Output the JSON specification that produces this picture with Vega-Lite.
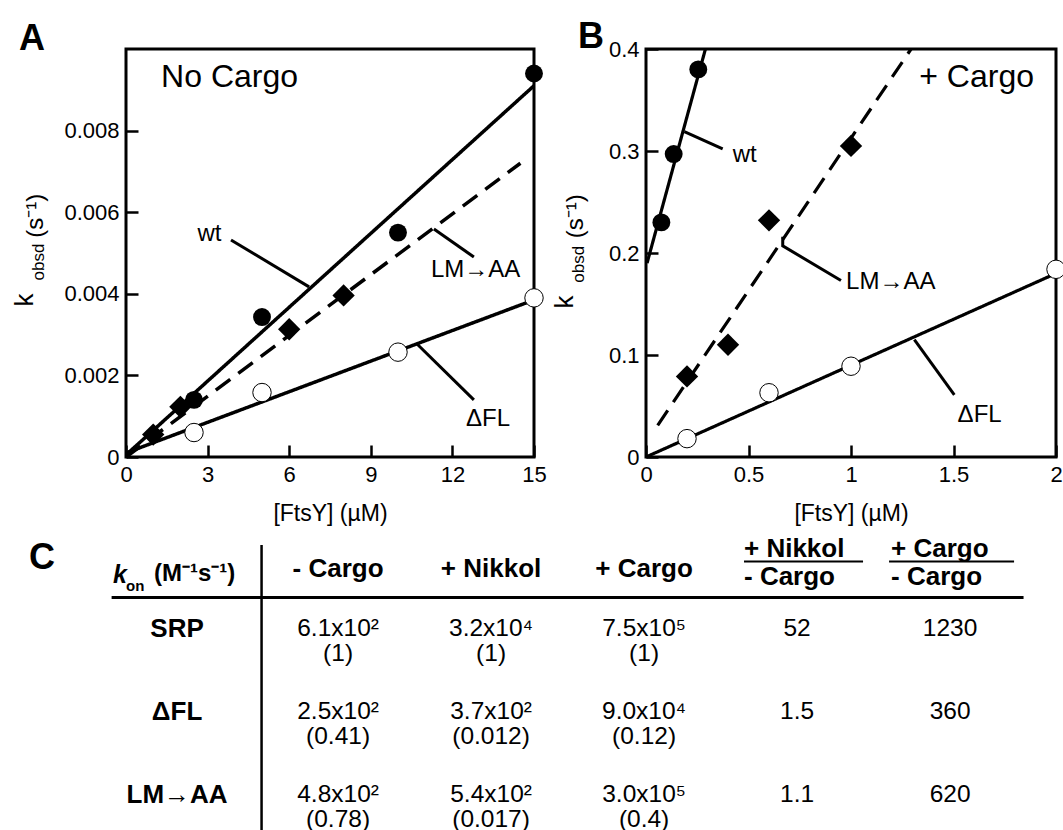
{
  "$schema": "https://vega.github.io/schema/vega-lite/v6.json",
  "padding": {"left": 10, "top": 17, "right": 0, "bottom": 0},
  "background": "white",
  "bounds": "flush",
  "spacing": 493,
  "config": {
    "font": "Liberation Sans",
    "view": {"stroke": "black", "strokeWidth": 3},
    "axis": {"domain": false, "grid": false, "tickSize": -12, "tickWidth": 2.5, "tickColor": "black", "labelFontSize": 22, "labelColor": "black", "labelPadding": 19, "labelFlush": false, "labelOverlap": false, "titleFontSize": 23, "titleFontWeight": "normal", "titleColor": "black", "titlePadding": 17},
    "text": {"color": "black"}
  },
  "datasets": {
    "ptsA": [
      {"series": "wt", "x": 2.5, "y": 0.0014}, {"series": "wt", "x": 5, "y": 0.00343}, {"series": "wt", "x": 10, "y": 0.0055}, {"series": "wt", "x": 15, "y": 0.0094},
      {"series": "LM→AA", "x": 1, "y": 0.00055}, {"series": "LM→AA", "x": 2, "y": 0.00123}, {"series": "LM→AA", "x": 6, "y": 0.00313}, {"series": "LM→AA", "x": 8, "y": 0.00396},
      {"series": "ΔFL", "x": 2.5, "y": 0.0006}, {"series": "ΔFL", "x": 5, "y": 0.00158}, {"series": "ΔFL", "x": 10, "y": 0.00257}, {"series": "ΔFL", "x": 15, "y": 0.0039}
    ],
    "fitA": [
      {"series": "wt", "style": "solid", "x": 0, "y": 0.00005}, {"series": "wt", "style": "solid", "x": 15, "y": 0.0091},
      {"series": "LM→AA", "style": "dashed", "x": 0, "y": 0}, {"series": "LM→AA", "style": "dashed", "x": 14.5, "y": 0.0072},
      {"series": "ΔFL", "style": "solid", "x": 0, "y": 0.0001}, {"series": "ΔFL", "style": "solid", "x": 15, "y": 0.00385}
    ],
    "leadA": [
      {"series": "wt", "i": 0, "x": 3.86, "y": 0.00532}, {"series": "wt", "i": 1, "x": 6.73, "y": 0.00417},
      {"series": "LM→AA", "i": 0, "x": 11.32, "y": 0.00559}, {"series": "LM→AA", "i": 1, "x": 12.79, "y": 0.0049},
      {"series": "ΔFL", "i": 0, "x": 10.7, "y": 0.00277}, {"series": "ΔFL", "i": 1, "x": 12.79, "y": 0.0014}
    ],
    "labA": [
      {"text": "wt", "x": 2.63, "y": 0.00547, "kind": "ann"},
      {"text": "LM→AA", "x": 11.21, "y": 0.00458, "kind": "ann"},
      {"text": "ΔFL", "x": 12.5, "y": 0.00094, "kind": "ann"},
      {"text": "No Cargo", "x": 1.29, "y": 0.00931, "kind": "cond"},
      {"text": "A", "x": -3.93, "y": 0.00998, "kind": "panel"},
      {"text": "k", "x": -3.42, "y": 0.00385, "kind": "k"},
      {"text": "obsd", "x": -3.01, "y": 0.00478, "kind": "sub"},
      {"text": "(s⁻¹)", "x": -3.05, "y": 0.00591, "kind": "unit"}
    ],
    "ptsB": [
      {"series": "wt", "x": 0.075, "y": 0.23}, {"series": "wt", "x": 0.135, "y": 0.297}, {"series": "wt", "x": 0.255, "y": 0.38},
      {"series": "LM→AA", "x": 0.2, "y": 0.079}, {"series": "LM→AA", "x": 0.4, "y": 0.11}, {"series": "LM→AA", "x": 0.6, "y": 0.232}, {"series": "LM→AA", "x": 1, "y": 0.305},
      {"series": "ΔFL", "x": 0.2, "y": 0.018}, {"series": "ΔFL", "x": 0.6, "y": 0.063}, {"series": "ΔFL", "x": 1, "y": 0.089}, {"series": "ΔFL", "x": 2, "y": 0.184}
    ],
    "fitB": [
      {"series": "wt", "style": "solid", "x": 0.005, "y": 0.19}, {"series": "wt", "style": "solid", "x": 0.29, "y": 0.4},
      {"series": "LM→AA", "style": "dashed", "x": 0.057, "y": 0.031}, {"series": "LM→AA", "style": "dashed", "x": 1.293, "y": 0.4},
      {"series": "ΔFL", "style": "solid", "x": 0, "y": 0}, {"series": "ΔFL", "style": "solid", "x": 2, "y": 0.18}
    ],
    "leadB": [
      {"series": "wt", "i": 0, "x": 0.187, "y": 0.319}, {"series": "wt", "i": 1, "x": 0.374, "y": 0.302},
      {"series": "LM→AA", "i": 0, "x": 0.667, "y": 0.216}, {"series": "LM→AA", "i": 1, "x": 0.667, "y": 0.207}, {"series": "LM→AA", "i": 2, "x": 0.951, "y": 0.173},
      {"series": "ΔFL", "i": 0, "x": 1.309, "y": 0.115}, {"series": "ΔFL", "i": 1, "x": 1.504, "y": 0.061}
    ],
    "labB": [
      {"text": "wt", "x": 0.423, "y": 0.2965, "kind": "ann"},
      {"text": "LM→AA", "x": 0.976, "y": 0.172, "kind": "ann"},
      {"text": "ΔFL", "x": 1.52, "y": 0.041, "kind": "ann"},
      {"text": "+ Cargo", "x": 1.333, "y": 0.373, "kind": "cond"},
      {"text": "B", "x": -0.332, "y": 0.401, "kind": "panel"},
      {"text": "k", "x": -0.356, "y": 0.152, "kind": "k"},
      {"text": "obsd", "x": -0.302, "y": 0.189, "kind": "sub"},
      {"text": "(s⁻¹)", "x": -0.307, "y": 0.236, "kind": "unit"}
    ],
    "tab": [
      {"c": 1, "r": 0.28, "text": "- Cargo", "kind": "head"},
      {"c": 2, "r": 0.28, "text": "+ Nikkol", "kind": "head"},
      {"c": 3, "r": 0.28, "text": "+ Cargo", "kind": "head"},
      {"c": 3.653, "r": 0.034, "text": "+ Nikkol", "kind": "headL"},
      {"c": 3.653, "r": 0.372, "text": "- Cargo", "kind": "headL"},
      {"c": 4.614, "r": 0.034, "text": "+ Cargo", "kind": "headL"},
      {"c": 4.614, "r": 0.372, "text": "- Cargo", "kind": "headL"},
      {"c": 0, "r": 1, "text": "SRP", "kind": "rowlab"},
      {"c": 0, "r": 2, "text": "ΔFL", "kind": "rowlab"},
      {"c": 0, "r": 3, "text": "LM→AA", "kind": "rowlab"},
      {"c": 1, "r": 1, "text": "6.1x10²", "kind": "val"}, {"c": 1, "r": 1, "text": "(1)", "kind": "sub"},
      {"c": 2, "r": 1, "text": "3.2x10⁴", "kind": "val"}, {"c": 2, "r": 1, "text": "(1)", "kind": "sub"},
      {"c": 3, "r": 1, "text": "7.5x10⁵", "kind": "val"}, {"c": 3, "r": 1, "text": "(1)", "kind": "sub"},
      {"c": 4, "r": 1, "text": "52", "kind": "val"},
      {"c": 5, "r": 1, "text": "1230", "kind": "val"},
      {"c": 1, "r": 2, "text": "2.5x10²", "kind": "val"}, {"c": 1, "r": 2, "text": "(0.41)", "kind": "sub"},
      {"c": 2, "r": 2, "text": "3.7x10²", "kind": "val"}, {"c": 2, "r": 2, "text": "(0.012)", "kind": "sub"},
      {"c": 3, "r": 2, "text": "9.0x10⁴", "kind": "val"}, {"c": 3, "r": 2, "text": "(0.12)", "kind": "sub"},
      {"c": 4, "r": 2, "text": "1.5", "kind": "val"},
      {"c": 5, "r": 2, "text": "360", "kind": "val"},
      {"c": 1, "r": 3, "text": "4.8x10²", "kind": "val"}, {"c": 1, "r": 3, "text": "(0.78)", "kind": "sub"},
      {"c": 2, "r": 3, "text": "5.4x10²", "kind": "val"}, {"c": 2, "r": 3, "text": "(0.017)", "kind": "sub"},
      {"c": 3, "r": 3, "text": "3.0x10⁵", "kind": "val"}, {"c": 3, "r": 3, "text": "(0.4)", "kind": "sub"},
      {"c": 4, "r": 3, "text": "1.1", "kind": "val"},
      {"c": 5, "r": 3, "text": "620", "kind": "val"},
      {"c": -1.02, "r": 0.143, "text": "C", "kind": "letter"},
      {"c": -0.471, "r": 0.348, "text": "k", "kind": "k"},
      {"c": -0.386, "r": 0.481, "text": "on", "kind": "on"},
      {"c": -0.203, "r": 0.336, "text": "(M⁻¹s⁻¹)", "kind": "unit"}
    ],
    "tlines": [
      {"c": -0.48, "c2": 5.48, "r": 0.62, "kind": "h"},
      {"c": 3.653, "c2": 4.431, "r": 0.185, "kind": "u"},
      {"c": 4.601, "c2": 5.418, "r": 0.185, "kind": "u"},
      {"c": 0.5, "r": -0.014, "r2": 3.45, "kind": "v"}
    ]
  },
  "vconcat": [
    {
      "bounds": "flush",
      "spacing": 112,
      "hconcat": [
        {
          "width": 408, "height": 408,
          "encoding": {
            "x": {"field": "x", "type": "quantitative", "scale": {"domain": [0, 15], "nice": false, "zero": false}, "axis": {"values": [0, 3, 6, 9, 12, 15], "title": "[FtsY] (µM)"}},
            "y": {"field": "y", "type": "quantitative", "scale": {"domain": [0, 0.01], "nice": false, "zero": false}, "axis": {"values": [0, 0.002, 0.004, 0.006, 0.008], "labelExpr": "datum.value == 0 ? '0' : format(datum.value, '.3f')", "title": null}}
          },
          "layer": [
            {"data": {"name": "fitA"}, "mark": {"type": "line", "color": "black", "strokeWidth": 3.5}, "encoding": {"detail": {"field": "series"}, "strokeDash": {"field": "style", "type": "nominal", "scale": {"domain": ["solid", "dashed"], "range": [[1, 0], [18, 10]]}, "legend": null}}},
            {"data": {"name": "leadA"}, "mark": {"type": "line", "color": "black", "strokeWidth": 3}, "encoding": {"detail": {"field": "series"}, "order": {"field": "i", "type": "quantitative"}}},
            {"data": {"name": "ptsA"}, "transform": [{"filter": "datum.series === 'wt'"}], "mark": {"type": "point", "shape": "circle", "filled": true, "color": "black", "size": 320, "opacity": 1}},
            {"data": {"name": "ptsA"}, "transform": [{"filter": "datum.series === 'LM→AA'"}], "mark": {"type": "point", "shape": "diamond", "filled": true, "color": "black", "size": 500, "opacity": 1}},
            {"data": {"name": "ptsA"}, "transform": [{"filter": "datum.series === 'ΔFL'"}], "mark": {"type": "point", "shape": "circle", "filled": true, "fill": "white", "stroke": "black", "strokeWidth": 1, "size": 340, "opacity": 1}},
            {"data": {"name": "labA"}, "transform": [{"filter": "datum.kind === 'ann'"}], "mark": {"type": "text", "align": "left", "baseline": "middle", "fontSize": 24}, "encoding": {"text": {"field": "text"}}},
            {"data": {"name": "labA"}, "transform": [{"filter": "datum.kind === 'cond'"}], "mark": {"type": "text", "align": "left", "baseline": "middle", "fontSize": 32}, "encoding": {"text": {"field": "text"}}},
            {"data": {"name": "labA"}, "transform": [{"filter": "datum.kind === 'panel'"}], "mark": {"type": "text", "align": "left", "baseline": "alphabetic", "fontSize": 36, "fontWeight": "bold"}, "encoding": {"text": {"field": "text"}}},
            {"data": {"name": "labA"}, "transform": [{"filter": "datum.kind === 'k'"}], "mark": {"type": "text", "align": "center", "baseline": "alphabetic", "angle": 270, "fontSize": 26}, "encoding": {"text": {"field": "text"}}},
            {"data": {"name": "labA"}, "transform": [{"filter": "datum.kind === 'sub'"}], "mark": {"type": "text", "align": "center", "baseline": "alphabetic", "angle": 270, "fontSize": 17}, "encoding": {"text": {"field": "text"}}},
            {"data": {"name": "labA"}, "transform": [{"filter": "datum.kind === 'unit'"}], "mark": {"type": "text", "align": "center", "baseline": "alphabetic", "angle": 270, "fontSize": 24}, "encoding": {"text": {"field": "text"}}}
          ]
        },
        {
          "width": 410, "height": 408,
          "encoding": {
            "x": {"field": "x", "type": "quantitative", "scale": {"domain": [0, 2], "nice": false, "zero": false}, "axis": {"values": [0, 0.5, 1, 1.5, 2], "format": ".1~f", "title": "[FtsY] (µM)"}},
            "y": {"field": "y", "type": "quantitative", "scale": {"domain": [0, 0.4], "nice": false, "zero": false}, "axis": {"values": [0, 0.1, 0.2, 0.3, 0.4], "format": ".1~f", "title": null}}
          },
          "layer": [
            {"data": {"name": "fitB"}, "mark": {"type": "line", "color": "black", "strokeWidth": 3.2}, "encoding": {"detail": {"field": "series"}, "strokeDash": {"field": "style", "type": "nominal", "scale": {"domain": ["solid", "dashed"], "range": [[1, 0], [20, 11]]}, "legend": null}}},
            {"data": {"name": "leadB"}, "mark": {"type": "line", "color": "black", "strokeWidth": 3}, "encoding": {"detail": {"field": "series"}, "order": {"field": "i", "type": "quantitative"}}},
            {"data": {"name": "ptsB"}, "transform": [{"filter": "datum.series === 'wt'"}], "mark": {"type": "point", "shape": "circle", "filled": true, "color": "black", "size": 320, "opacity": 1}},
            {"data": {"name": "ptsB"}, "transform": [{"filter": "datum.series === 'LM→AA'"}], "mark": {"type": "point", "shape": "diamond", "filled": true, "color": "black", "size": 500, "opacity": 1}},
            {"data": {"name": "ptsB"}, "transform": [{"filter": "datum.series === 'ΔFL'"}], "mark": {"type": "point", "shape": "circle", "filled": true, "fill": "white", "stroke": "black", "strokeWidth": 1, "size": 340, "opacity": 1}},
            {"data": {"name": "labB"}, "transform": [{"filter": "datum.kind === 'ann'"}], "mark": {"type": "text", "align": "left", "baseline": "middle", "fontSize": 24}, "encoding": {"text": {"field": "text"}}},
            {"data": {"name": "labB"}, "transform": [{"filter": "datum.kind === 'cond'"}], "mark": {"type": "text", "align": "left", "baseline": "middle", "fontSize": 32}, "encoding": {"text": {"field": "text"}}},
            {"data": {"name": "labB"}, "transform": [{"filter": "datum.kind === 'panel'"}], "mark": {"type": "text", "align": "left", "baseline": "alphabetic", "fontSize": 36, "fontWeight": "bold"}, "encoding": {"text": {"field": "text"}}},
            {"data": {"name": "labB"}, "transform": [{"filter": "datum.kind === 'k'"}], "mark": {"type": "text", "align": "center", "baseline": "alphabetic", "angle": 270, "fontSize": 26}, "encoding": {"text": {"field": "text"}}},
            {"data": {"name": "labB"}, "transform": [{"filter": "datum.kind === 'sub'"}], "mark": {"type": "text", "align": "center", "baseline": "alphabetic", "angle": 270, "fontSize": 17}, "encoding": {"text": {"field": "text"}}},
            {"data": {"name": "labB"}, "transform": [{"filter": "datum.kind === 'unit'"}], "mark": {"type": "text", "align": "center", "baseline": "alphabetic", "angle": 270, "fontSize": 24}, "encoding": {"text": {"field": "text"}}}
          ]
        }
      ]
    },
    {
      "width": 900, "height": 290,
      "view": {"stroke": null},
      "encoding": {
        "x": {"field": "c", "type": "quantitative", "scale": {"domain": [-0.386, 5.496], "nice": false, "zero": false}, "axis": null},
        "y": {"field": "r", "type": "quantitative", "scale": {"domain": [-0.05, 3.45], "nice": false, "zero": false, "reverse": true}, "axis": null}
      },
      "layer": [
        {"data": {"name": "tlines"}, "transform": [{"filter": "datum.kind === 'h'"}], "mark": {"type": "rule", "color": "black", "strokeWidth": 3}, "encoding": {"x2": {"field": "c2"}}},
        {"data": {"name": "tlines"}, "transform": [{"filter": "datum.kind === 'u'"}], "mark": {"type": "rule", "color": "black", "strokeWidth": 2}, "encoding": {"x2": {"field": "c2"}}},
        {"data": {"name": "tlines"}, "transform": [{"filter": "datum.kind === 'v'"}], "mark": {"type": "rule", "color": "black", "strokeWidth": 2.5}, "encoding": {"y2": {"field": "r2"}}},
        {"data": {"name": "tab"}, "transform": [{"filter": "datum.kind === 'head'"}], "mark": {"type": "text", "align": "center", "baseline": "middle", "fontSize": 26, "fontWeight": "bold"}, "encoding": {"text": {"field": "text"}}},
        {"data": {"name": "tab"}, "transform": [{"filter": "datum.kind === 'headL'"}], "mark": {"type": "text", "align": "left", "baseline": "middle", "fontSize": 26, "fontWeight": "bold"}, "encoding": {"text": {"field": "text"}}},
        {"data": {"name": "tab"}, "transform": [{"filter": "datum.kind === 'rowlab'"}], "mark": {"type": "text", "align": "center", "baseline": "middle", "fontSize": 26, "fontWeight": "bold", "dx": -8}, "encoding": {"text": {"field": "text"}}},
        {"data": {"name": "tab"}, "transform": [{"filter": "datum.kind === 'val'"}], "mark": {"type": "text", "align": "center", "baseline": "middle", "fontSize": 24.5}, "encoding": {"text": {"field": "text"}}},
        {"data": {"name": "tab"}, "transform": [{"filter": "datum.kind === 'sub'"}], "mark": {"type": "text", "align": "center", "baseline": "middle", "fontSize": 24.5, "dy": 25}, "encoding": {"text": {"field": "text"}}},
        {"data": {"name": "tab"}, "transform": [{"filter": "datum.kind === 'letter'"}], "mark": {"type": "text", "align": "left", "baseline": "middle", "fontSize": 36, "fontWeight": "bold"}, "encoding": {"text": {"field": "text"}}},
        {"data": {"name": "tab"}, "transform": [{"filter": "datum.kind === 'k'"}], "mark": {"type": "text", "align": "left", "baseline": "middle", "fontSize": 25, "fontWeight": "bold", "fontStyle": "italic"}, "encoding": {"text": {"field": "text"}}},
        {"data": {"name": "tab"}, "transform": [{"filter": "datum.kind === 'on'"}], "mark": {"type": "text", "align": "left", "baseline": "middle", "fontSize": 15, "fontWeight": "bold"}, "encoding": {"text": {"field": "text"}}},
        {"data": {"name": "tab"}, "transform": [{"filter": "datum.kind === 'unit'"}], "mark": {"type": "text", "align": "left", "baseline": "middle", "fontSize": 24, "fontWeight": "bold"}, "encoding": {"text": {"field": "text"}}}
      ]
    }
  ]
}
